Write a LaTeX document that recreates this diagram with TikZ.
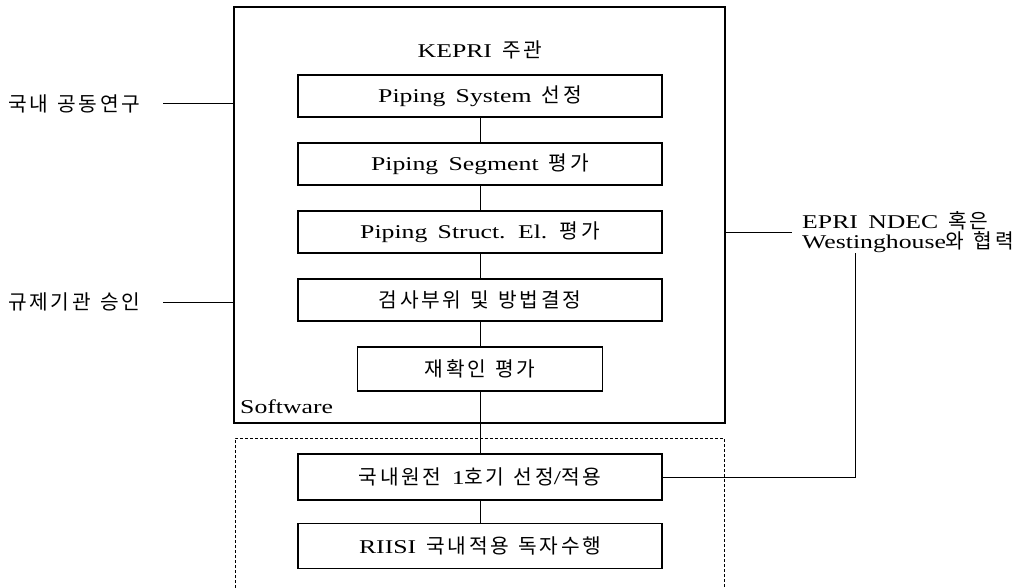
\documentclass[tikz,border=0pt]{standalone}
\usepackage{fontspec}
\setmainfont{Liberation Serif}[FakeStretch=1.32,WordSpace=1.6]
\newfontfamily\kr{Noto Sans CJK KR}[Scale=1.04,LetterSpace=13,WordSpace=1.3]
\newcommand{\K}[1]{{\kr #1}}
\begin{document}
\begin{tikzpicture}[x=1pt,y=-1pt,
  every node/.style={font=\fontsize{19.5}{21}\selectfont},
  stepbox/.style={draw,line width=1.1pt,minimum width=364pt,minimum height=42pt,inner sep=0pt},
  shortbox/.style={stepbox,minimum width=245pt,minimum height=44pt},
  link/.style={line width=1pt},
  outerframe/.style={draw,line width=2.4pt,minimum width=491pt,minimum height=416pt,inner sep=0pt},
  dotframe/.style={line width=0.9pt,dash pattern=on 3pt off 2pt}
]
\useasboundingbox (0,0) rectangle (1030,588);

% outer thick frame
\node[outerframe] (outer) at (479.5,215) {};
\node (title) at (480,50) {KEPRI \K{주관}};
\node[anchor=west,inner sep=0pt] (soft) at (240,407) {Software};

% dotted frame (open at bottom)
\draw[dotframe] (235,588) -- (235,438) -- (724,438) -- (724,588);

% step boxes
\node[stepbox] (b1) at (480,96) {Piping System \K{선정}};
\node[stepbox] (b2) at (480,164) {Piping Segment \K{평가}};
\node[stepbox] (b3) at (480,232) {Piping Struct. El. \K{평가}};
\node[stepbox] (b4) at (480,300) {\K{검사부위 및 방법결정}};
\node[shortbox] (b5) at (480,369) {\K{재확인 평가}};
\node[stepbox,minimum height=46pt] (b6) at (480,477) {\K{국내원전} 1\K{호기 선정}/\K{적용}};
\node[stepbox,minimum height=45pt] (b7) at (480,546) {RIISI \K{국내적용 독자수행}};

% vertical chain
\draw[link] (b1.south) -- (b2.north);
\draw[link] (b2.south) -- (b3.north);
\draw[link] (b3.south) -- (b4.north);
\draw[link] (b4.south) -- (b5.north);
\draw[link] (b5.south) -- (b6.north);
\draw[link] (b6.south) -- (b7.north);

% left labels
\node[anchor=west,inner sep=0pt] (l1) at (8,104) {\K{국내 공동연구}};
\node[anchor=west,inner sep=0pt] (l2) at (8,302) {\K{규제기관 승인}};
\coordinate (l1e) at (163,104);
\coordinate (l2e) at (163,302);
\draw[link] (l1e) -- (l1e -| outer.west);
\draw[link] (l2e) -- (l2e -| outer.west);

% right label
\node[anchor=west,align=left,inner sep=0pt,font=\fontsize{19.5}{19.5}\selectfont] (r) at (802,232)
  {EPRI NDEC \K{혹은}\\Westinghouse\K{와 협력}};
\coordinate (r1) at (792,232);
\draw[link] (r1 -| outer.east) -- (r1);
\coordinate (r2) at (855,253);
\draw[link] (r2) -- (r2 |- b6.east) -- (b6.east);
\end{tikzpicture}
\end{document}
